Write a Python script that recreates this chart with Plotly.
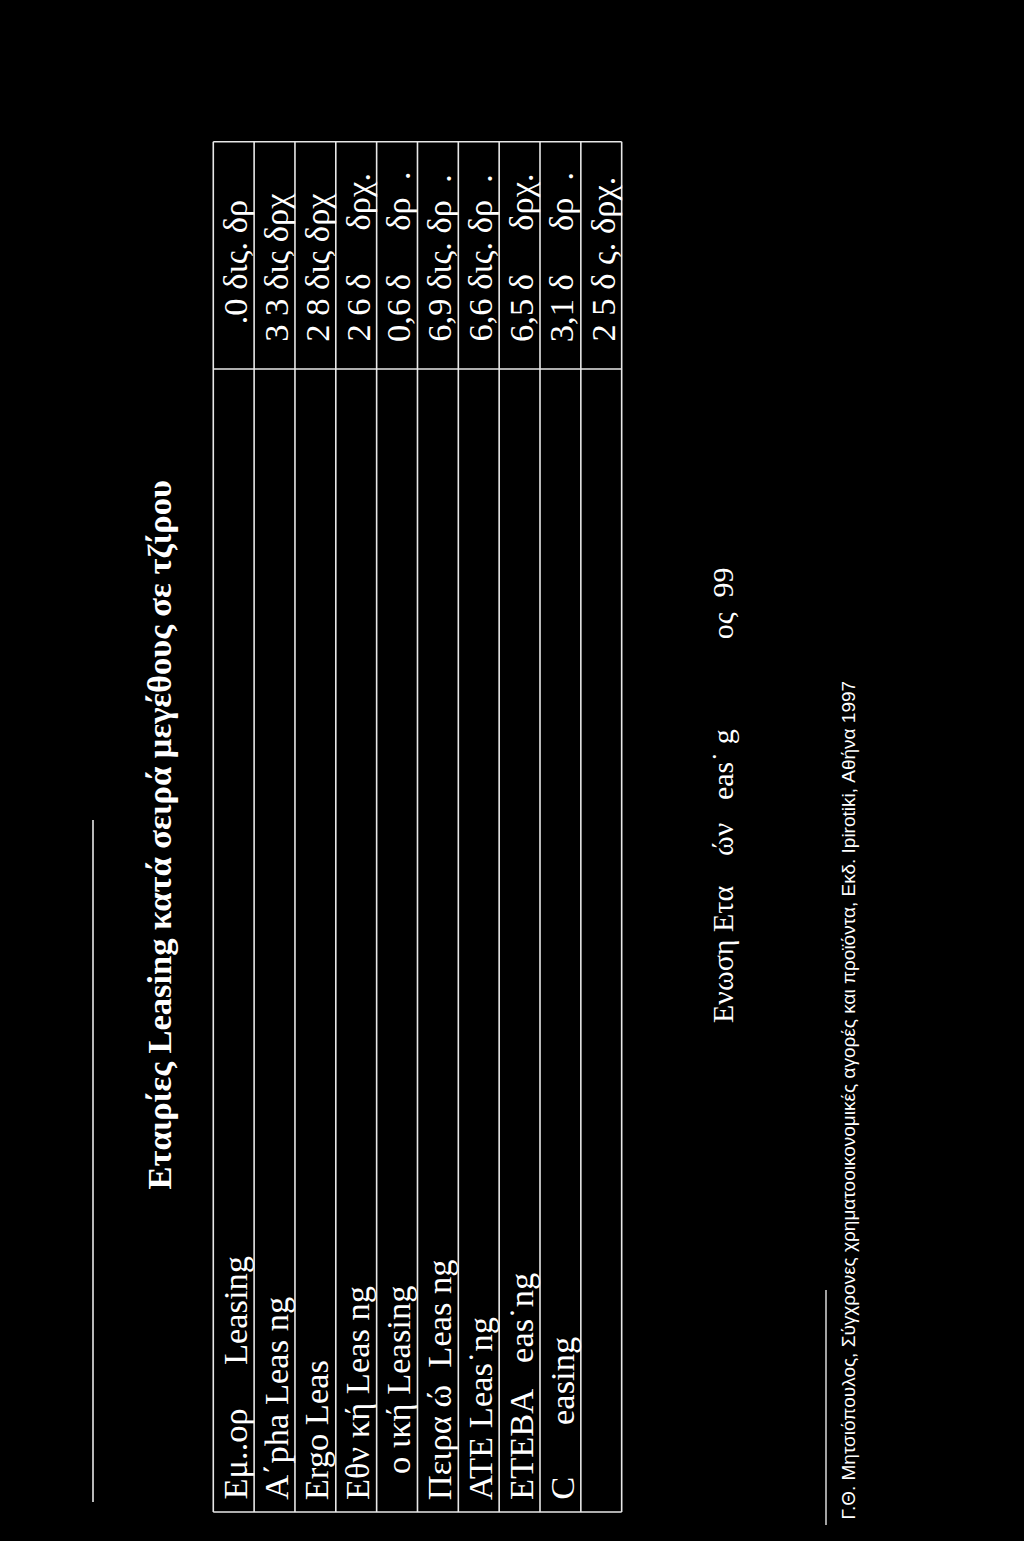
import plotly.graph_objects as go

# γραμμές πίνακα (όπως διαβάζονται στη σάρωση, με τα χαμένα γράμματα)
companies = [
    "Εμ..ορ     Leasing",
    "Α΄pha Leas ng",
    "Ergo Leas",
    "Εθν κή Leas ng",
    "   ο ική Leasing",
    "Πειρα ώ  Leas ng",
    "ATE Leas˙ng",
    "ETEBA   eas˙ng",
    "C      easing",
    "",
]
turnover = [
    "  .0 δις. δρ",
    "3 3 δις δρχ",
    "2 8 δις δρχ",
    "2 6 δ     δρχ.",
    "0,6 δ     δρ  .",
    "6,9 δις. δρ  .",
    "6,6 δις. δρ  .",
    "6,5 δ     δρχ.",
    "3,1 δ     δρ  .",
    "2 5 δ ς. δρχ.",
]
title = "Εταιρίες Leasing κατά σειρά μεγέθους σε τζίρου"
source = "Ενωση Ετα    ών   eas˙ g            ος  99"
footnote = ("Γ.Θ. Μητσιόπουλος, Σύγχρονες χρηματοοικονομικές αγορές και προϊόντα, "
            "Εκδ. Ipirotiki, Αθήνα 1997")

W, H = 1024, 1541
row_w = 40.84          # πλάτος γραμμής σε px (η σελίδα είναι γυρισμένη)
row0 = 233.7           # κέντρο πρώτης γραμμής σε px
top, split, bottom = 141.7, 369, 1512
n = len(companies)

fig = go.Figure()
fig.add_trace(go.Scatter(x=[None], y=[None], showlegend=False))

line = dict(color="#e8e8e8", width=1.6)
for i in range(n + 1):
    fig.add_shape(type="line", x0=i - 0.5, x1=i - 0.5, y0=top, y1=bottom, line=line)
for yy in [top, split, bottom]:
    fig.add_shape(type="line", x0=-0.5, x1=n - 0.5, y0=yy, y1=yy, line=line)

serif = "Liberation Serif, Times New Roman, serif"
for i, (c, v) in enumerate(zip(companies, turnover)):
    if c:
        fig.add_annotation(x=i + 0.02, y=1502, text=c.replace(" ", "&nbsp;"), textangle=-90,
                           xanchor="center", yanchor="bottom", showarrow=False,
                           font=dict(family=serif, size=34.5, color="white"))
    fig.add_annotation(x=i + 0.02, y=344, text=v.replace(" ", "&nbsp;"), textangle=-90,
                       xanchor="center", yanchor="bottom", showarrow=False,
                       font=dict(family=serif, size=34.5, color="white"))

# τίτλος
fig.add_annotation(xref="paper", x=158 / W, y=1192, text="<b>" + title + "</b>", textangle=-90,
                   xanchor="center", yanchor="bottom", showarrow=False,
                   font=dict(family=serif, size=34.5, color="white"))
# πηγή
fig.add_annotation(xref="paper", x=722 / W, y=1025, text=source.replace(" ", "&nbsp;"), textangle=-90,
                   xanchor="center", yanchor="bottom", showarrow=False,
                   font=dict(family=serif, size=30, color="white"))
# υποσημείωση
fig.add_annotation(xref="paper", x=848 / W, y=1522, text=footnote, textangle=-90,
                   xanchor="center", yanchor="bottom", showarrow=False,
                   font=dict(family="Liberation Sans Narrow, Liberation Sans, sans-serif",
                             size=19, color="white"))
# κάθετες γραμμές εκτός πίνακα
fig.add_shape(type="line", xref="paper", x0=93 / W, x1=93 / W, y0=820, y1=1502, line=line)
fig.add_shape(type="line", xref="paper", x0=826 / W, x1=826 / W, y0=1290, y1=1525,
              line=dict(color="#e8e8e8", width=1.4))

fig.update_layout(
    width=W, height=H,
    margin=dict(l=0, r=0, t=0, b=0),
    paper_bgcolor="black", plot_bgcolor="black",
    xaxis=dict(range=[-row0 / row_w, (W - row0) / row_w], visible=False, fixedrange=True),
    yaxis=dict(range=[H, 0], visible=False, fixedrange=True),
    showlegend=False,
)

fig.write_html("out.html", config={"displayModeBar": False},
               post_script="document.body.style.margin='0';document.body.style.background='black';")
